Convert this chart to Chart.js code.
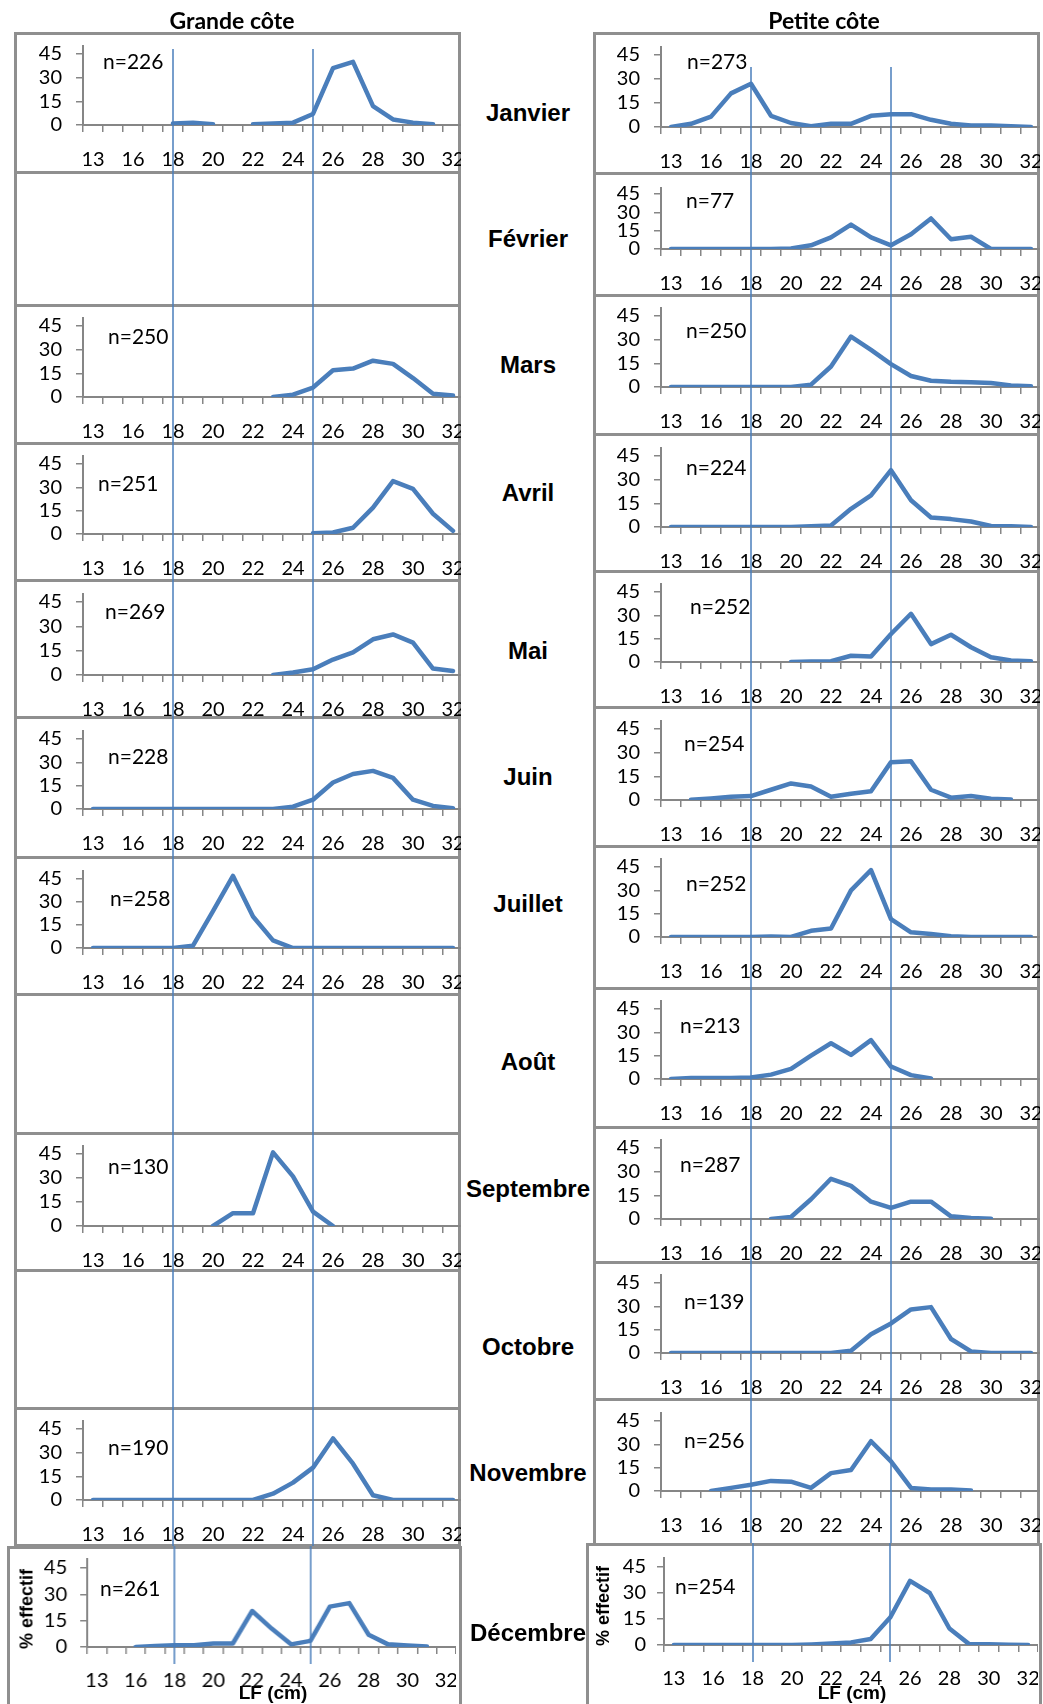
<!DOCTYPE html>
<html>
<head>
<meta charset="utf-8">
<script src="https://cdn.jsdelivr.net/npm/chart.js@4.4.0/dist/chart.umd.min.js"></script>
<style>
  html, body { margin: 0; padding: 0; background: #fff; }
  body { width: 1043px; height: 1704px; position: relative; overflow: hidden; font-family: Lato, sans-serif; }
  .frame { position: absolute; box-sizing: border-box; border: 3px solid #8f8f8f; }
  .clip { position: absolute; overflow: hidden; }
  .clip canvas { position: absolute; left: 0; top: 0; }
  .head { position: absolute; font: bold 23px Lato, sans-serif; transform: translate(-50%, -50%); white-space: nowrap; }
  .month { position: absolute; font: bold 24px "Liberation Sans", Arial, sans-serif; transform: translate(-50%, -50%); white-space: nowrap; }
  .n { position: absolute; font: 21px Lato, sans-serif; transform: translateY(-50%); white-space: nowrap; }
  .ytitle { position: absolute; font: bold 18px "Liberation Sans", Arial, sans-serif; transform: translate(-50%, -50%) rotate(-90deg); white-space: nowrap; }
  .xtitle { position: absolute; font: bold 19px "Liberation Sans", Arial, sans-serif; transform: translate(-50%, -50%); white-space: nowrap; }
</style>
</head>
<body>
<script>
// classes de taille (LF, cm)
var lengthClasses = ['13','15','16','17','18','19','20','21','22','23','24','25','26','27','28','29','30','31','32'];
var shownLabels = ['13','16','18','20','22','24','26','28','30','32'];
var yTicks = [0, 15, 30, 45];
var markers = ['18', '25'];
var months = ['Janvier','Février','Mars','Avril','Mai','Juin','Juillet','Août','Septembre','Octobre','Novembre','Décembre'];
var nGrande = [226, null, 250, 251, 269, 228, 258, null, 130, null, 190, 261];
var nPetite = [273, 77, 250, 224, 252, 254, 252, 213, 287, 139, 256, 254];

// Grande côte (% effectif)
var gJan = [null,null,null,null,1,1.5,0.5,null,0.5,1,1.5,7,36,40,12,3.5,1.5,0.5,null];
var gMar = [null,null,null,null,null,null,null,null,null,0,1.5,6,17,18,23,21,12,2,1];
var gAvr = [null,null,null,null,null,null,null,null,null,null,null,0.5,1,4,17,34,29,13,2];
var gMai = [null,null,null,null,null,null,null,null,null,0,1.5,3.5,9.5,14,22,25,20,4,2.5];
var gJuin = [0,0,0,0,0,0,0,0,0,0,1.5,6,17,22.5,24.5,20,6,2,0.5];
var gJuil = [0,0,0,0,0,1.5,24,47,20.5,5,0,0,0,0,0,0,0,0,0];
var gSep = [null,null,null,null,null,null,0,8,8,46,31,9,0,null,null,null,null,null,null];
var gNov = [0,0,0,0,0,0,0,0,0,4,11,20.5,39,23,3,0,0,0,0];
var gDec = [null,null,0,0.5,1,1,2,2,20.5,10.5,1.5,3.5,23,25,7,1.5,0.8,0.3,null];

// Petite côte (% effectif)
var pJan = [0,2,6.5,21,27,7,2.5,0.5,2,2,7,8,8,4.5,2,1,1,0.5,0];
var pFev = [0,0,0,0,0,0,0.5,3,9.5,20,9.5,3,12,25,8,10,0,0,0];
var pMar = [0,0,0,0,0,0,0,1.5,13,32,23.5,14.5,7,4,3.3,3,2.5,1,0.5];
var pAvr = [0,0,0,0,0,0,0,0.5,1,11.5,20,36,17,6,5,3.5,0.6,0.5,0];
var pMai = [null,null,null,null,null,null,0,0.3,0.5,4,3.5,18,31,11.5,17.5,9.5,3,1,0.5];
var pJuin = [null,0.2,1,2,2.5,6.5,10.5,8.5,2,4,5.5,24,24.5,6.5,1.5,2.5,0.8,0.3,null];
var pJuil = [0,0,0,0,0,0.3,0,4,5.5,30,43,11.5,3,2,0.5,0,0,0,0];
var pAou = [0,0.7,0.7,0.7,1,2.8,6.5,15,23,15.5,25,8,2.5,0.3,null,null,null,null,null];
var pSep = [null,null,null,null,null,0,1.3,12.5,25.5,21,11,7,11,11,1.7,0.6,0.2,null,null];
var pOct = [0,0,0,0,0,0,0,0,0,1.5,12,19,28,29.5,9,1,0,0,0];
var pNov = [null,null,0,2,4,6.5,6,2,11.5,13.5,32,19,2,1,1,0.3,null,null,null];
var pDec = [0,0,0,0,0,0,0,0.3,0.8,1.5,3.5,16,37,30,9.5,0.5,0.5,0.2,0];

var grande = [gJan, null, gMar, gAvr, gMai, gJuin, gJuil, null, gSep, null, gNov, gDec];
var petite = [pJan, pFev, pMar, pAvr, pMai, pJuin, pJuil, pAou, pSep, pOct, pNov, pDec];

// mise en page : [haut, bas, y du 0, y du 45]
var leftRows = [[33,172,125,54],[172,305,264,193],[305,443,397,326],[443,580,534,464],[580,717,675,602],[717,857,809,739],
  [857,994,948,879],[994,1133,1086,1015],[1133,1270,1226,1154],[1270,1408,1362,1291],[1408,1545,1500,1429],[1547,1710,1647,1568]];
var rightRows = [[33,173,127,55],[173,295,249,194],[295,434,387,316],[434,571,527,456],[571,707,662,592],[707,846,800,729],
  [846,988,937,867],[988,1127,1079,1009],[1127,1262,1219,1148],[1262,1399,1353,1283],[1399,1544,1491,1421],[1544,1710,1645,1567]];
var nPosLeft = [[103,60],null,[108,335],[98,482],[105,610],[108,755],[110,897],null,[108,1165],null,[108,1446],[100,1587]];
var nPosRight = [[687,60],[686,199],[686,329],[686,466],[690,605],[684,742],[686,882],[680,1024],[680,1163],[684,1300],[684,1439],[675,1585]];
var monthY = [113,239,365,493,651,777,904,1062,1189,1347,1473,1633];

var blue = '#4a7ebb';
var axisGray = '#868686';

var markerPlugin = {
  id: 'markerLines',
  afterDatasetsDraw: function (chart, args, opts) {
    var ctx = chart.ctx, xs = chart.scales.x;
    var from = Math.max(0, opts.from), to = Math.min(chart.height, opts.to);
    if (to <= from) return;
    ctx.save();
    ctx.strokeStyle = blue;
    ctx.lineWidth = 1.5;
    markers.forEach(function (m) {
      var px = Math.round(xs.getPixelForValue(lengthClasses.indexOf(m)));
      ctx.beginPath();
      ctx.moveTo(px, from);
      ctx.lineTo(px, to);
      ctx.stroke();
    });
    ctx.restore();
  }
};

function addDiv(cls, text, x, y) {
  var d = document.createElement('div');
  d.className = cls;
  d.textContent = text;
  d.style.left = x + 'px';
  d.style.top = y + 'px';
  document.body.appendChild(d);
  return d;
}

function makePanel(row, series, box) {
  var top = row[0], bottom = row[1], y0 = row[2], y45 = row[3];
  var empty = !series;
  var cLeft = box.fx0 - 1, cTop = top - 1;
  var boxW = box.fx1 - box.fx0 + 3, H = bottom - top + 3;
  var W = box.axisX + 19 * box.cw - cLeft;

  var frame = document.createElement('div');
  frame.className = 'frame';
  frame.style.left = cLeft + 'px'; frame.style.top = cTop + 'px';
  frame.style.width = boxW + 'px'; frame.style.height = H + 'px';
  document.body.appendChild(frame);

  var clip = document.createElement('div');
  clip.className = 'clip';
  clip.style.left = cLeft + 'px'; clip.style.top = cTop + 'px';
  clip.style.width = boxW + 'px'; clip.style.height = H + 'px';
  var canvas = document.createElement('canvas');
  canvas.width = W; canvas.height = H;
  canvas.style.width = W + 'px'; canvas.style.height = H + 'px';
  clip.appendChild(canvas);
  document.body.appendChild(clip);

  var ppu = (y0 - y45) / 45;
  var padTop = (y0 - 50 * ppu) - cTop;
  var xh = cTop + H - y0;
  var yw = box.axisX - cLeft;
  var tickFont = { family: 'Lato', size: 20 };
  // empty panels keep the same axes layout, drawn invisibly
  var gridColor = empty ? 'transparent' : axisGray;
  var textColor = empty ? 'transparent' : '#000';

  new Chart(canvas, {
    type: 'line',
    data: {
      labels: lengthClasses,
      datasets: [{
        data: empty ? lengthClasses.map(function () { return null; }) : series,
        borderColor: blue,
        borderWidth: 4.5,
        pointRadius: 0,
        tension: 0,
        spanGaps: false,
        borderJoinStyle: 'round',
        borderCapStyle: 'round'
      }]
    },
    options: {
      responsive: false,
      animation: false,
      events: [],
      layout: { padding: { top: padTop, left: 0, right: 0, bottom: 0 } },
      plugins: {
        legend: { display: false },
        tooltip: { enabled: false },
        markerLines: { from: box.lineTop - cTop, to: box.lineBottom - cTop }
      },
      scales: {
        x: {
          offset: true,
          grid: { offset: true, drawOnChartArea: false, tickLength: 7, color: gridColor, lineWidth: 1.5 },
          border: { color: gridColor, width: 2 },
          ticks: {
            autoSkip: false, maxRotation: 0, minRotation: 0,
            padding: box.xPad, font: tickFont, color: textColor,
            callback: function (value, index) {
              var lab = lengthClasses[index];
              return shownLabels.indexOf(lab) >= 0 ? lab : '';
            }
          },
          afterFit: function (s) { s.height = xh; s.paddingLeft = 0; s.paddingRight = 0; }
        },
        y: {
          min: 0,
          max: 50,
          afterBuildTicks: function (s) { s.ticks = yTicks.map(function (v) { return { value: v }; }); },
          grid: { drawOnChartArea: false, tickLength: 7, color: gridColor, lineWidth: 1.5 },
          border: { color: gridColor, width: 2 },
          ticks: { autoSkip: false, padding: box.yPad, font: tickFont, color: textColor },
          afterFit: function (s) { s.width = yw; s.paddingTop = 0; s.paddingBottom = 0; }
        }
      }
    },
    plugins: [markerPlugin]
  });
}

var leftBox = { fx0: 15, fx1: 459, axisX: 83, cw: 20, xPad: 16, yPad: 14, lineTop: 49, lineBottom: 1664 };
var leftDecBox = { fx0: 8, fx1: 460, axisX: 87, cw: 19.4, xPad: 15, yPad: 13, lineTop: 49, lineBottom: 1664 };
var rightBox = { fx0: 594, fx1: 1038, axisX: 661, cw: 20, xPad: 16, yPad: 14, lineTop: 67, lineBottom: 1662 };
var rightDecBox = { fx0: 587, fx1: 1040, axisX: 664, cw: 19.7, xPad: 15, yPad: 11, lineTop: 67, lineBottom: 1662 };

for (var i = 0; i < 12; i++) {
  makePanel(leftRows[i], grande[i], i === 11 ? leftDecBox : leftBox);
  makePanel(rightRows[i], petite[i], i === 11 ? rightDecBox : rightBox);
}

addDiv('head', 'Grande côte', 232, 20);
addDiv('head', 'Petite côte', 824, 20);
months.forEach(function (m, i) { addDiv('month', m, 528, monthY[i]); });
nGrande.forEach(function (n, i) { if (n !== null) addDiv('n', 'n=' + n, nPosLeft[i][0], nPosLeft[i][1]); });
nPetite.forEach(function (n, i) { addDiv('n', 'n=' + n, nPosRight[i][0], nPosRight[i][1]); });
addDiv('ytitle', '% effectif', 27, 1609);
addDiv('ytitle', '% effectif', 603, 1606);
addDiv('xtitle', 'LF (cm)', 273, 1693);
addDiv('xtitle', 'LF (cm)', 852, 1693);
</script>
</body>
</html>
